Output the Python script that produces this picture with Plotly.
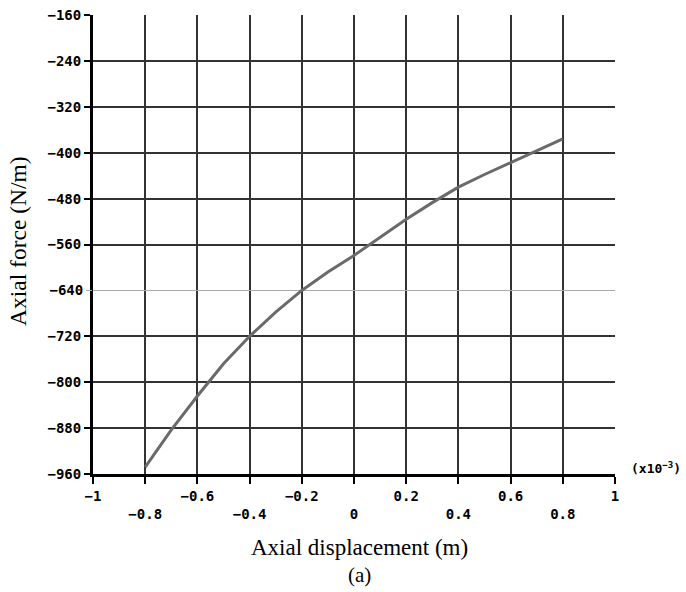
import plotly.graph_objects as go

# Data
disp = [-0.8, -0.7, -0.6, -0.5, -0.4, -0.3, -0.2, -0.1, 0.0, 0.1, 0.2, 0.3, 0.4, 0.5, 0.6, 0.7, 0.8]
force = [-948, -883, -824, -768, -720, -678, -640, -608, -579, -547, -516, -487, -460, -438, -417, -397, -376]

x_ticks = [-1, -0.8, -0.6, -0.4, -0.2, 0, 0.2, 0.4, 0.6, 0.8, 1]
x_labels = ["\u22121", "<br>\u22120.8", "\u22120.6", "<br>\u22120.4", "\u22120.2", "<br>0",
            "0.2", "<br>0.4", "0.6", "<br>0.8", "1"]
y_ticks = [-960, -880, -800, -720, -560, -480, -400, -320, -240, -160]
y_labels = ["\u2212960", "\u2212880", "\u2212800", "\u2212720", "\u2212560", "\u2212480",
            "\u2212400", "\u2212320", "\u2212240", "\u2212160"]
y_light_tick = [-640]
y_light_label = ["\u2212640"]

tick_font = dict(family="DejaVu Sans Mono", size=14, color="black", weight="bold")
serif = "Liberation Serif"
grid_col = "#333333"

fig = go.Figure()
fig.add_trace(go.Scatter(x=disp, y=force, mode="lines",
                         line=dict(color="#6a6a6a", width=3), showlegend=False))

fig.update_layout(
    width=686, height=592, autosize=False,
    margin=dict(l=93, r=71, t=15, b=118, autoexpand=False),
    paper_bgcolor="white", plot_bgcolor="white",
    xaxis=dict(range=[-1, 1], tickmode="array", tickvals=x_ticks, ticktext=x_labels,
               ticks="outside", ticklen=7, tickwidth=2, tickcolor="black",
               showgrid=True, gridcolor=grid_col, gridwidth=2,
               showline=True, linecolor="black", linewidth=3, automargin=False,
               zeroline=False, tickfont=tick_font),
    yaxis=dict(range=[-960, -160], tickmode="array", tickvals=y_ticks, ticktext=y_labels,
               ticks="outside", ticklen=6, tickwidth=2, tickcolor="black",
               showgrid=True, gridcolor=grid_col, gridwidth=2, automargin=False,
               showline=True, linecolor="black", linewidth=3,
               zeroline=False, tickfont=tick_font),
    yaxis2=dict(range=[-960, -160], overlaying="y", side="left", tickmode="array",
                tickvals=y_light_tick, ticktext=y_light_label, automargin=False,
                ticks="outside", ticklen=6, tickwidth=1, tickcolor="#aaaaaa",
                showgrid=True, gridcolor="#aaaaaa", gridwidth=1,
                showline=False, zeroline=False, tickfont=tick_font),
    annotations=[
        dict(text="Axial force (N/m)", xref="paper", yref="paper", x=-0.1437, y=0.5076,
             textangle=-90, showarrow=False, font=dict(family=serif, size=23.5, color="black"),
             xanchor="center", yanchor="middle"),
        dict(text="Axial displacement (m)", xref="paper", yref="paper", x=0.5096, y=-0.1612,
             showarrow=False, font=dict(family=serif, size=23, color="black"),
             xanchor="center", yanchor="middle"),
        dict(text="(a)", xref="paper", yref="paper", x=0.5096, y=-0.22,
             showarrow=False, font=dict(family=serif, size=21, color="black"),
             xanchor="center", yanchor="middle"),
        dict(text="(x10<sup>\u22123</sup>)", xref="paper", yref="paper", x=1.0795, y=0.0137,
             showarrow=False, font=dict(family="DejaVu Sans Mono", size=13, color="black", weight="bold"),
             xanchor="center", yanchor="middle"),
    ],
)
fig.add_trace(go.Scatter(x=[None], y=[None], yaxis="y2", showlegend=False))

fig.write_html("out.html")
